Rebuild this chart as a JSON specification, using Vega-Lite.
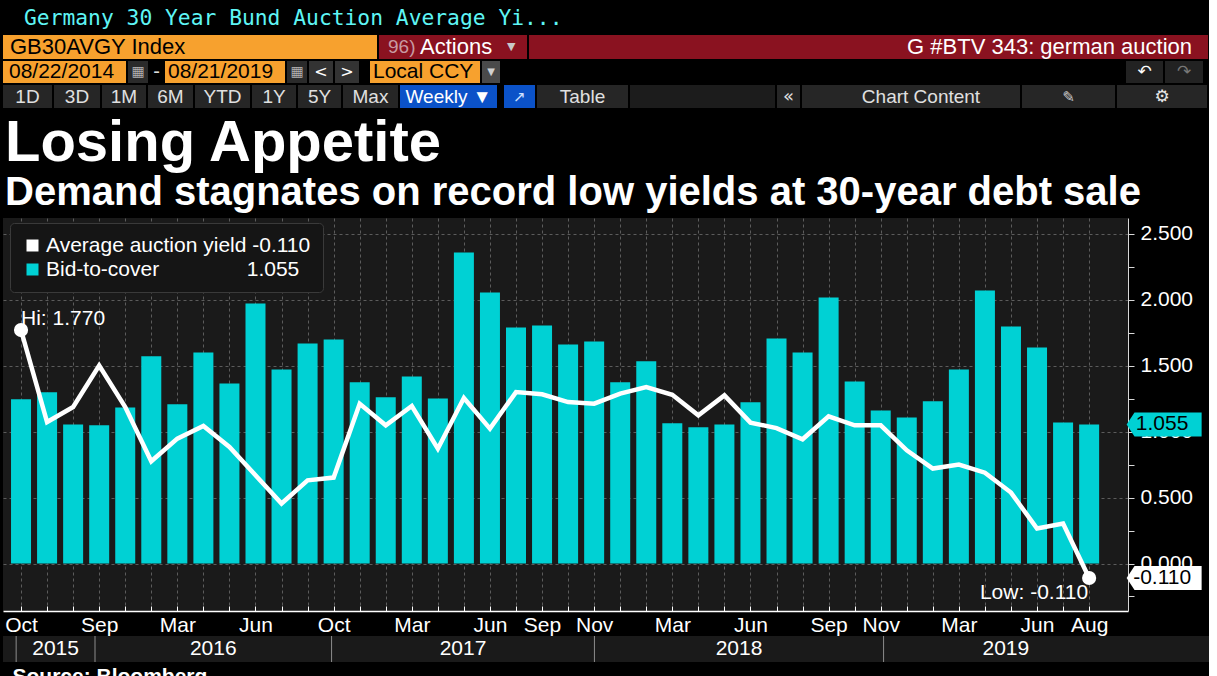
{
  "$schema": "https://vega.github.io/schema/vega-lite/v6.json",
  "description": "Germany 30-year Bund auctions: bid-to-cover (bars) and average auction yield (line), Oct 2014 - Aug 2019, in a Bloomberg-style frame.",
  "background": "#000000",
  "padding": {"left": 3, "top": 7, "right": 0, "bottom": 0},
  "title": {
    "text": "Germany 30 Year Bund Auction Average Yi...",
    "anchor": "start",
    "font": "DejaVu Sans Mono",
    "fontSize": 21.3,
    "fontWeight": "normal",
    "color": "#5ef5f5",
    "dx": 21,
    "offset": 6
  },
  "datasets": {
    "auctions": [
      {"i": 1, "btc": 1.245, "yld": 1.770},
      {"i": 2, "btc": 1.298, "yld": 1.073},
      {"i": 3, "btc": 1.055, "yld": 1.187},
      {"i": 4, "btc": 1.048, "yld": 1.502},
      {"i": 5, "btc": 1.184, "yld": 1.187},
      {"i": 6, "btc": 1.572, "yld": 0.775},
      {"i": 7, "btc": 1.207, "yld": 0.947},
      {"i": 8, "btc": 1.601, "yld": 1.043},
      {"i": 9, "btc": 1.366, "yld": 0.884},
      {"i": 10, "btc": 1.972, "yld": 0.669},
      {"i": 11, "btc": 1.472, "yld": 0.455},
      {"i": 12, "btc": 1.669, "yld": 0.631},
      {"i": 13, "btc": 1.699, "yld": 0.652},
      {"i": 14, "btc": 1.374, "yld": 1.212},
      {"i": 15, "btc": 1.260, "yld": 1.048},
      {"i": 16, "btc": 1.419, "yld": 1.194},
      {"i": 17, "btc": 1.252, "yld": 0.871},
      {"i": 18, "btc": 2.358, "yld": 1.255},
      {"i": 19, "btc": 2.055, "yld": 1.023},
      {"i": 20, "btc": 1.790, "yld": 1.300},
      {"i": 21, "btc": 1.805, "yld": 1.283},
      {"i": 22, "btc": 1.661, "yld": 1.224},
      {"i": 23, "btc": 1.684, "yld": 1.212},
      {"i": 24, "btc": 1.374, "yld": 1.288},
      {"i": 25, "btc": 1.533, "yld": 1.338},
      {"i": 26, "btc": 1.063, "yld": 1.280},
      {"i": 27, "btc": 1.033, "yld": 1.124},
      {"i": 28, "btc": 1.055, "yld": 1.275},
      {"i": 29, "btc": 1.222, "yld": 1.068},
      {"i": 30, "btc": 1.707, "yld": 1.027},
      {"i": 31, "btc": 1.601, "yld": 0.942},
      {"i": 32, "btc": 2.018, "yld": 1.116},
      {"i": 33, "btc": 1.381, "yld": 1.048},
      {"i": 34, "btc": 1.161, "yld": 1.048},
      {"i": 35, "btc": 1.108, "yld": 0.858},
      {"i": 36, "btc": 1.230, "yld": 0.720},
      {"i": 37, "btc": 1.472, "yld": 0.750},
      {"i": 38, "btc": 2.071, "yld": 0.689},
      {"i": 39, "btc": 1.798, "yld": 0.538},
      {"i": 40, "btc": 1.638, "yld": 0.265},
      {"i": 41, "btc": 1.070, "yld": 0.303},
      {"i": 42, "btc": 1.055, "yld": -0.110}
    ],
    "years": [
      {"year": "2015", "start": 1, "end": 4},
      {"year": "2016", "start": 4, "end": 13},
      {"year": "2017", "start": 13, "end": 23},
      {"year": "2018", "start": 23, "end": 34},
      {"year": "2019", "start": 34, "end": 43.3}
    ]
  },
  "spacing": 7,
  "resolve": {"scale": {"color": "independent"}, "legend": {"color": "independent"}},
  "vconcat": [
    {
      "spacing": 2,
      "vconcat": [
        {
          "spacing": 2,
          "hconcat": [
            {"width": 374, "height": 24, "view": {"fill": "#f7a12e"}, "data": {"values": [{}]},
             "mark": {"type": "text", "align": "left", "font": "Liberation Sans", "fontSize": 22, "color": "#000000"},
             "encoding": {"text": {"value": "GB30AVGY Index"}, "x": {"value": 7}}},
            {"width": 148, "height": 24, "view": {"fill": "#8a1220"}, "data": {"values": [{}]},
             "layer": [
               {"mark": {"type": "text", "align": "left", "font": "Liberation Sans", "fontSize": 19, "color": "#c89aa2"}, "encoding": {"text": {"value": "96)"}, "x": {"value": 9}}},
               {"mark": {"type": "text", "align": "left", "font": "Liberation Sans", "fontSize": 22, "color": "#ffffff"}, "encoding": {"text": {"value": "Actions"}, "x": {"value": 41}}},
               {"mark": {"type": "text", "align": "left", "font": "DejaVu Sans", "fontSize": 11, "color": "#c8c8c8"}, "encoding": {"text": {"value": "▼"}, "x": {"value": 128}}}
             ]},
            {"width": 679, "height": 24, "view": {"fill": "#8a1220"}, "data": {"values": [{}]},
             "mark": {"type": "text", "align": "right", "font": "Liberation Sans", "fontSize": 22, "color": "#ffffff"},
             "encoding": {"text": {"value": "G #BTV 343: german auction"}, "x": {"value": 663}}}
          ]
        },
        {
          "spacing": 2,
          "hconcat": [
            {"width": 123, "height": 22, "view": {"fill": "#f7a12e"}, "data": {"values": [{}]},
             "mark": {"type": "text", "align": "left", "font": "Liberation Sans", "fontSize": 21, "color": "#000000"},
             "encoding": {"text": {"value": "08/22/2014"}, "x": {"value": 6}}},
            {"width": 20, "height": 22, "view": {"fill": "#2a2a2a"}, "data": {"values": [{}]},
             "mark": {"type": "text", "font": "DejaVu Sans", "fontSize": 14, "color": "#b0b0b0"},
             "encoding": {"text": {"value": "▦"}}},
            {"width": 13, "height": 22, "view": {"fill": "#000000"}, "data": {"values": [{}]},
             "mark": {"type": "text", "font": "Liberation Sans", "fontSize": 20, "color": "#dddddd"},
             "encoding": {"text": {"value": "-"}}},
            {"width": 120, "height": 22, "view": {"fill": "#f7a12e"}, "data": {"values": [{}]},
             "mark": {"type": "text", "align": "left", "font": "Liberation Sans", "fontSize": 21, "color": "#000000"},
             "encoding": {"text": {"value": "08/21/2019"}, "x": {"value": 3}}},
            {"width": 20, "height": 22, "view": {"fill": "#2a2a2a"}, "data": {"values": [{}]},
             "mark": {"type": "text", "font": "DejaVu Sans", "fontSize": 14, "color": "#b0b0b0"},
             "encoding": {"text": {"value": "▦"}}},
            {"width": 24, "height": 22, "view": {"fill": "#333333"}, "data": {"values": [{}]},
             "mark": {"type": "text", "font": "DejaVu Sans", "fontSize": 16, "color": "#ffffff"},
             "encoding": {"text": {"value": "<"}}},
            {"width": 24, "height": 22, "view": {"fill": "#333333"}, "data": {"values": [{}]},
             "mark": {"type": "text", "font": "DejaVu Sans", "fontSize": 16, "color": "#ffffff"},
             "encoding": {"text": {"value": ">"}}},
            {"width": 7, "height": 22, "view": {"fill": "#000000"}, "data": {"values": [{}]},
             "mark": {"type": "text"}, "encoding": {"text": {"value": ""}}},
            {"width": 110, "height": 22, "view": {"fill": "#f7a12e"}, "data": {"values": [{}]},
             "mark": {"type": "text", "align": "left", "font": "Liberation Sans", "fontSize": 21, "color": "#000000"},
             "encoding": {"text": {"value": "Local CCY"}, "x": {"value": 3}}},
            {"width": 18, "height": 22, "view": {"fill": "#4a4a4a"}, "data": {"values": [{}]},
             "mark": {"type": "text", "font": "DejaVu Sans", "fontSize": 10, "color": "#d0d0d0"},
             "encoding": {"text": {"value": "▼"}}},
            {"width": 622, "height": 22, "view": {"fill": "#000000"}, "data": {"values": [{}]},
             "mark": {"type": "text"}, "encoding": {"text": {"value": ""}}},
            {"width": 37, "height": 22, "view": {"fill": "#222222"}, "data": {"values": [{}]},
             "mark": {"type": "text", "font": "DejaVu Sans", "fontSize": 17, "color": "#ffffff"},
             "encoding": {"text": {"value": "↶"}}},
            {"width": 38, "height": 22, "view": {"fill": "#222222"}, "data": {"values": [{}]},
             "mark": {"type": "text", "font": "DejaVu Sans", "fontSize": 17, "color": "#777777"},
             "encoding": {"text": {"value": "↷"}}}
          ]
        },
        {
          "spacing": 2,
          "hconcat": [
            {"width": 49, "height": 23, "view": {"fill": "#262626"}, "data": {"values": [{}]},
             "mark": {"type": "text", "font": "Liberation Sans", "fontSize": 19, "color": "#e0e0e0"}, "encoding": {"text": {"value": "1D"}}},
            {"width": 46, "height": 23, "view": {"fill": "#262626"}, "data": {"values": [{}]},
             "mark": {"type": "text", "font": "Liberation Sans", "fontSize": 19, "color": "#e0e0e0"}, "encoding": {"text": {"value": "3D"}}},
            {"width": 44, "height": 23, "view": {"fill": "#262626"}, "data": {"values": [{}]},
             "mark": {"type": "text", "font": "Liberation Sans", "fontSize": 19, "color": "#e0e0e0"}, "encoding": {"text": {"value": "1M"}}},
            {"width": 45, "height": 23, "view": {"fill": "#262626"}, "data": {"values": [{}]},
             "mark": {"type": "text", "font": "Liberation Sans", "fontSize": 19, "color": "#e0e0e0"}, "encoding": {"text": {"value": "6M"}}},
            {"width": 55, "height": 23, "view": {"fill": "#262626"}, "data": {"values": [{}]},
             "mark": {"type": "text", "font": "Liberation Sans", "fontSize": 19, "color": "#e0e0e0"}, "encoding": {"text": {"value": "YTD"}}},
            {"width": 44, "height": 23, "view": {"fill": "#262626"}, "data": {"values": [{}]},
             "mark": {"type": "text", "font": "Liberation Sans", "fontSize": 19, "color": "#e0e0e0"}, "encoding": {"text": {"value": "1Y"}}},
            {"width": 43, "height": 23, "view": {"fill": "#262626"}, "data": {"values": [{}]},
             "mark": {"type": "text", "font": "Liberation Sans", "fontSize": 19, "color": "#e0e0e0"}, "encoding": {"text": {"value": "5Y"}}},
            {"width": 55, "height": 23, "view": {"fill": "#262626"}, "data": {"values": [{}]},
             "mark": {"type": "text", "font": "Liberation Sans", "fontSize": 19, "color": "#e0e0e0"}, "encoding": {"text": {"value": "Max"}}},
            {"width": 97, "height": 23, "view": {"fill": "#0b52c8"}, "data": {"values": [{}]},
             "mark": {"type": "text", "font": "Liberation Sans", "fontSize": 19, "color": "#ffffff"}, "encoding": {"text": {"value": "Weekly ▼"}}},
            {"width": 3, "height": 23, "view": {"fill": "#000000"}, "data": {"values": [{}]},
             "mark": {"type": "text"}, "encoding": {"text": {"value": ""}}},
            {"width": 31, "height": 23, "view": {"fill": "#0b52c8"}, "data": {"values": [{}]},
             "mark": {"type": "text", "font": "DejaVu Sans", "fontSize": 15, "color": "#cfe0ff"}, "encoding": {"text": {"value": "↗"}}},
            {"width": 91, "height": 23, "view": {"fill": "#262626"}, "data": {"values": [{}]},
             "mark": {"type": "text", "font": "Liberation Sans", "fontSize": 19, "color": "#e0e0e0"}, "encoding": {"text": {"value": "Table"}}},
            {"width": 145, "height": 23, "view": {"fill": "#1c1c1c"}, "data": {"values": [{}]},
             "mark": {"type": "text"}, "encoding": {"text": {"value": ""}}},
            {"width": 23, "height": 23, "view": {"fill": "#262626"}, "data": {"values": [{}]},
             "mark": {"type": "text", "font": "DejaVu Sans", "fontSize": 18, "color": "#e0e0e0"}, "encoding": {"text": {"value": "«"}}},
            {"width": 218, "height": 23, "view": {"fill": "#262626"}, "data": {"values": [{}]},
             "mark": {"type": "text", "font": "Liberation Sans", "fontSize": 19, "color": "#e0e0e0", "dx": 10}, "encoding": {"text": {"value": "Chart Content"}}},
            {"width": 93, "height": 23, "view": {"fill": "#262626"}, "data": {"values": [{}]},
             "mark": {"type": "text", "font": "DejaVu Sans", "fontSize": 15, "color": "#c8c8c8"}, "encoding": {"text": {"value": "✎"}}},
            {"width": 90, "height": 23, "view": {"fill": "#262626"}, "data": {"values": [{}]},
             "mark": {"type": "text", "font": "DejaVu Sans", "fontSize": 17, "color": "#e8e8e8"}, "encoding": {"text": {"value": "⚙"}}}
          ]
        }
      ]
    },
    {
      "spacing": 0,
      "resolve": {"scale": {"color": "independent"}, "legend": {"color": "independent"}},
      "vconcat": [
        {
          "width": 1125,
          "height": 393,
          "view": {"fill": "#1a1a1a", "stroke": null},
          "title": {
            "text": "Losing Appetite",
            "subtitle": "Demand stagnates on record low yields at 30-year debt sale",
            "anchor": "start",
            "font": "Liberation Sans",
            "fontSize": 58,
            "fontWeight": "bold",
            "color": "#ffffff",
            "subtitleFont": "Liberation Sans",
            "subtitleFontSize": 40,
            "subtitleFontWeight": "bold",
            "subtitleColor": "#ffffff",
            "subtitlePadding": 0,
            "offset": 5,
            "dx": 2
          },
          "data": {"name": "auctions"},
          "resolve": {"axis": {"y": "independent"}},
          "encoding": {
            "x": {
              "field": "i",
              "type": "quantitative",
              "scale": {"domain": [0.5, 43.3], "nice": false, "zero": false},
              "axis": {
                "title": null,
                "values": [1, 2, 3, 4, 5, 6, 7, 8, 9, 10, 11, 12, 13, 14, 15, 16, 17, 18, 19, 20, 21, 22, 23, 24, 25, 26, 27, 28, 29, 30, 31, 32, 33, 34, 35, 36, 37, 38, 39, 40, 41, 42],
                "labelExpr": "['','Oct','','','Sep','','','Mar','','','Jun','','','Oct','','','Mar','','','Jun','','Sep','','Nov','','','Mar','','','Jun','','','Sep','','Nov','','','Mar','','','Jun','','Aug'][datum.value]",
                "grid": true,
                "gridColor": "#5c5c5c",
                "gridDash": [3, 3],
                "domainColor": "#ffffff",
                "domainWidth": 1.5,
                "tickColor": "#ffffff",
                "tickSize": -5,
                "labelPadding": 8,
                "labelColor": "#ffffff",
                "labelFont": "Liberation Sans",
                "labelFontSize": 21,
                "labelBaseline": "top",
                "labelFlush": 15,
                "labelOverlap": false
              }
            }
          },
          "layer": [
            {
              "mark": {"type": "bar", "width": 20},
              "encoding": {
                "y": {
                  "field": "btc",
                  "type": "quantitative",
                  "scale": {"domain": [-0.36, 2.62], "nice": false, "zero": false},
                  "axis": {
                    "orient": "right",
                    "title": null,
                    "values": [-0.25, 0, 0.25, 0.5, 0.75, 1, 1.25, 1.5, 1.75, 2, 2.25, 2.5],
                    "labelExpr": "abs(datum.value * 2 - round(datum.value * 2)) < 0.001 ? format(datum.value, '.3f') : ''",
                    "grid": true,
                    "gridColor": "#5c5c5c",
                    "gridDash": [3, 3],
                    "gridOpacity": {"condition": {"test": "abs(datum.value * 2 - round(datum.value * 2)) < 0.001", "value": 1}, "value": 0},
                    "domainColor": "#d8d8d8",
                    "tickColor": "#d8d8d8",
                    "tickSize": 6,
                    "labelPadding": 6,
                    "labelColor": "#ffffff",
                    "labelFont": "Liberation Sans",
                    "labelFontSize": 21,
                    "labelBaseline": "middle",
                    "labelOverlap": false
                  }
                },
                "color": {
                  "datum": "Bid-to-cover",
                  "type": "nominal",
                  "scale": {"domain": ["Average auction yield", "Bid-to-cover"], "range": ["#ffffff", "#00d1d4"]},
                  "legend": {
                    "title": null,
                    "orient": "none",
                    "legendX": 7,
                    "legendY": 5,
                    "direction": "vertical",
                    "fillColor": "#151515",
                    "strokeColor": "#3a3a3a",
                    "cornerRadius": 4,
                    "padding": 12,
                    "symbolType": "square",
                    "symbolSize": 144,
                    "symbolStrokeWidth": 0,
                    "labelFont": "Liberation Sans",
                    "labelFontSize": 21,
                    "labelColor": "#ffffff",
                    "labelOffset": 3,
                    "labelLimit": 400,
                    "rowPadding": 2,
                    "labelExpr": "datum.label == 'Bid-to-cover' ? 'Bid-to-cover\u00a0\u00a0\u00a0\u00a0\u00a0\u00a0\u00a0\u00a0\u00a0\u00a0\u00a0\u00a0\u00a0\u00a0\u00a01.055' : 'Average auction yield -0.110'"
                  }
                }
              }
            },
            {
              "mark": {"type": "line", "strokeWidth": 4.5},
              "encoding": {
                "y": {"field": "yld", "type": "quantitative", "axis": null},
                "color": {"datum": "Average auction yield", "type": "nominal", "legend": null}
              }
            },
            {
              "transform": [
                {"joinaggregate": [{"op": "max", "field": "yld", "as": "hi"}, {"op": "min", "field": "yld", "as": "lo"}]},
                {"filter": "datum.yld == datum.hi || datum.yld == datum.lo"}
              ],
              "mark": {"type": "point", "filled": true, "color": "#ffffff", "opacity": 1, "size": 200},
              "encoding": {"y": {"field": "yld", "type": "quantitative", "axis": null}}
            },
            {
              "transform": [
                {"joinaggregate": [{"op": "max", "field": "yld", "as": "hi"}]},
                {"filter": "datum.yld == datum.hi"},
                {"calculate": "'Hi: ' + replace(format(datum.yld, '.3f'), '\u2212', '-')", "as": "note"}
              ],
              "mark": {"type": "text", "align": "left", "baseline": "alphabetic", "dy": -5, "font": "Liberation Sans", "fontSize": 21, "color": "#ffffff"},
              "encoding": {"y": {"field": "yld", "type": "quantitative", "axis": null}, "text": {"field": "note"}}
            },
            {
              "transform": [
                {"joinaggregate": [{"op": "min", "field": "yld", "as": "lo"}]},
                {"filter": "datum.yld == datum.lo"},
                {"calculate": "'Low: ' + replace(format(datum.yld, '.3f'), '\u2212', '-')", "as": "note"}
              ],
              "mark": {"type": "text", "align": "right", "baseline": "top", "dy": 4, "dx": -1, "font": "Liberation Sans", "fontSize": 21, "color": "#ffffff"},
              "encoding": {"y": {"field": "yld", "type": "quantitative", "axis": null}, "text": {"field": "note"}}
            },
            {
              "transform": [
                {"joinaggregate": [{"op": "max", "field": "i", "as": "last"}]},
                {"filter": "datum.i == datum.last"}
              ],
              "mark": {"type": "point", "shape": "M -1 0 L -0.79 -0.32 L 1 -0.32 L 1 0.32 L -0.79 0.32 Z", "size": 5625, "filled": true, "color": "#00d1d4", "opacity": 1, "xOffset": 75},
              "encoding": {"y": {"field": "btc", "type": "quantitative", "axis": null}}
            },
            {
              "transform": [
                {"joinaggregate": [{"op": "max", "field": "i", "as": "last"}]},
                {"filter": "datum.i == datum.last"},
                {"calculate": "replace(format(datum.btc, '.3f'), '\u2212', '-')", "as": "tag"}
              ],
              "mark": {"type": "text", "dx": 73, "align": "center", "baseline": "middle", "font": "Liberation Sans", "fontSize": 21, "color": "#000000"},
              "encoding": {"y": {"field": "btc", "type": "quantitative", "axis": null}, "text": {"field": "tag"}}
            },
            {
              "transform": [
                {"joinaggregate": [{"op": "max", "field": "i", "as": "last"}]},
                {"filter": "datum.i == datum.last"}
              ],
              "mark": {"type": "point", "shape": "M -1 0 L -0.79 -0.32 L 1 -0.32 L 1 0.32 L -0.79 0.32 Z", "size": 5625, "filled": true, "color": "#ffffff", "opacity": 1, "xOffset": 75},
              "encoding": {"y": {"field": "yld", "type": "quantitative", "axis": null}}
            },
            {
              "transform": [
                {"joinaggregate": [{"op": "max", "field": "i", "as": "last"}]},
                {"filter": "datum.i == datum.last"},
                {"calculate": "replace(format(datum.yld, '.3f'), '\u2212', '-')", "as": "tag"}
              ],
              "mark": {"type": "text", "dx": 73, "align": "center", "baseline": "middle", "font": "Liberation Sans", "fontSize": 21, "color": "#000000"},
              "encoding": {"y": {"field": "yld", "type": "quantitative", "axis": null}, "text": {"field": "tag"}}
            }
          ]
        },
        {
          "width": 1206,
          "height": 26,
          "view": {"fill": "#1a1a1a", "stroke": null},
          "data": {"name": "years"},
          "transform": [{"calculate": "(datum.start + datum.end) / 2", "as": "mid"}],
          "layer": [
            {
              "mark": {"type": "rule", "color": "#8c8c8c", "strokeWidth": 1},
              "encoding": {
                "x": {
                  "field": "start",
                  "type": "quantitative",
                  "scale": {"domain": [0.5, 46.38], "nice": false, "zero": false},
                  "axis": {"title": "Source: Bloomberg", "labels": false, "ticks": false, "domain": false, "grid": false, "titleFont": "Liberation Sans", "titleFontSize": 21, "titleFontWeight": "bold", "titleColor": "#ffffff", "titleAnchor": "start", "titleAlign": "left", "titleX": 9, "titlePadding": 3}
                }
              }
            },
            {
              "mark": {"type": "text", "font": "Liberation Sans", "fontSize": 21, "color": "#ffffff", "baseline": "middle"},
              "encoding": {
                "x": {
                  "field": "mid",
                  "type": "quantitative",
                  "scale": {"domain": [0.5, 46.38], "nice": false, "zero": false},
                  "axis": {"title": "Source: Bloomberg", "labels": false, "ticks": false, "domain": false, "grid": false, "titleFont": "Liberation Sans", "titleFontSize": 21, "titleFontWeight": "bold", "titleColor": "#ffffff", "titleAnchor": "start", "titleAlign": "left", "titleX": 9, "titlePadding": 3}
                },
                "text": {"field": "year"}
              }
            }
          ]
        }
      ]
    }
  ],
  "config": {"view": {"stroke": null}}
}
